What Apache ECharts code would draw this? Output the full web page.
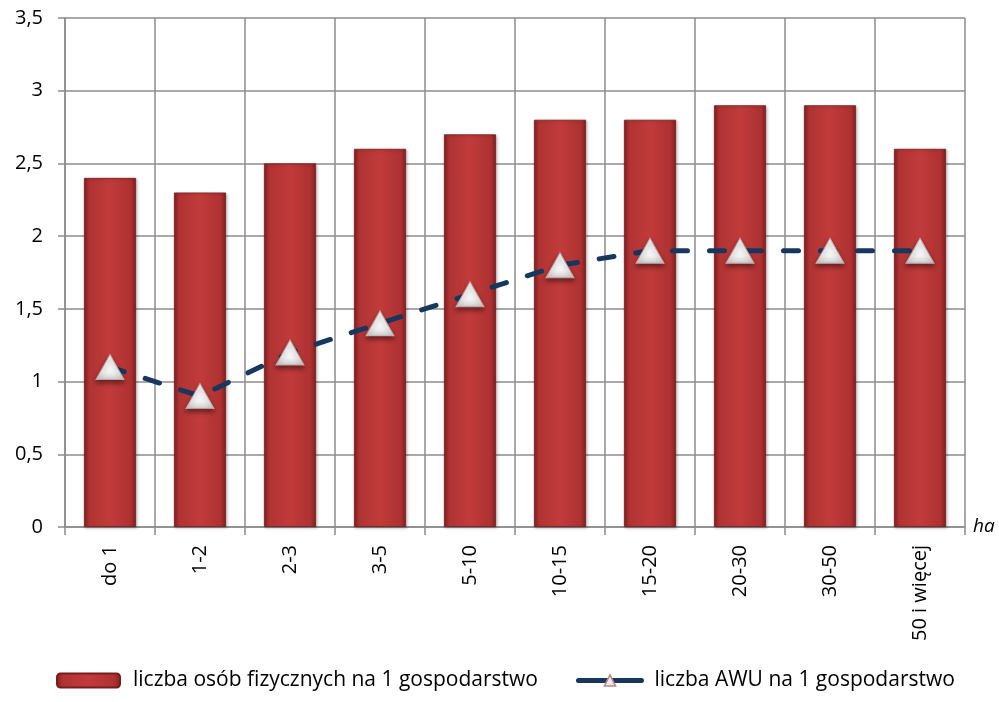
<!DOCTYPE html>
<html>
<head>
<meta charset="utf-8">
<script src="https://cdn.jsdelivr.net/npm/echarts@6/dist/echarts.min.js"></script>
<style>
  html, body { margin: 0; padding: 0; background: #fff; }
  #chart { width: 999px; height: 702px; }
</style>
</head>
<body>
<div id="chart"></div>
<script>
// Farm size groups (ha)
const categories = ['do 1', '1-2', '2-3', '3-5', '5-10', '10-15', '15-20', '20-30', '30-50', '50 i więcej'];
// Persons per farm
const personsPerFarm = [2.4, 2.3, 2.5, 2.6, 2.7, 2.8, 2.8, 2.9, 2.9, 2.6];
// AWU per farm
const awuPerFarm = [1.1, 0.9, 1.2, 1.4, 1.6, 1.8, 1.9, 1.9, 1.9, 1.9];
const yTicks = [0, 0.5, 1, 1.5, 2, 2.5, 3, 3.5];

const FONT = '"Open Sans", "Noto Sans", sans-serif';
const gridColor = '#8c8c8c';

const barFill = new echarts.graphic.LinearGradient(0, 0, 1, 0, [
  { offset: 0, color: '#862020' },
  { offset: 0.1, color: '#b03333' },
  { offset: 0.5, color: '#c23b3b' },
  { offset: 0.9, color: '#ae3131' },
  { offset: 1, color: '#821f1f' }
]);

const triangleFill = new echarts.graphic.LinearGradient(0, 0, 0, 1, [
  { offset: 0, color: '#ffffff' },
  { offset: 0.7, color: '#f4f4f4' },
  { offset: 1, color: '#cccccc' }
]);

const chart = echarts.init(document.getElementById('chart'), null, { renderer: 'canvas' });
chart.setOption({
  animation: false,
  backgroundColor: '#ffffff',
  grid: { left: 65, right: 34, top: 18, bottom: 175, containLabel: false },
  legend: {
    bottom: 6,
    left: 51,
    itemGap: 38,
    itemWidth: 63,
    itemHeight: 14,
    textStyle: { fontFamily: FONT, fontSize: 21, color: '#000', padding: [0, 0, 0, 8] },
    data: [
      { name: 'liczba osób fizycznych na 1 gospodarstwo' },
      {
        name: 'liczba AWU na 1 gospodarstwo',
        lineStyle: { color: '#17375e', width: 5, type: 'solid', cap: 'round' },
        itemStyle: { color: '#f2e6e6', borderColor: '#b58a8a', borderWidth: 1.5 }
      }
    ]
  },
  xAxis: {
    type: 'category',
    data: categories,
    boundaryGap: true,
    name: 'ha',
    nameLocation: 'end',
    nameGap: 8,
    nameTextStyle: { fontFamily: FONT, fontSize: 19, fontStyle: 'italic', color: '#000', verticalAlign: 'middle' },
    axisLine: { show: true, lineStyle: { color: gridColor, width: 1.5 } },
    axisTick: { show: true, length: 8, lineStyle: { color: gridColor, width: 1.5 } },
    splitLine: { show: true, lineStyle: { color: gridColor, width: 1.5 } },
    axisLabel: {
      rotate: 90,
      margin: 18,
      fontFamily: FONT,
      fontSize: 20,
      color: '#000'
    }
  },
  yAxis: {
    type: 'value',
    min: 0,
    max: 3.5,
    interval: 0.5,
    axisLine: { show: true, lineStyle: { color: gridColor, width: 1.5 } },
    axisTick: { show: true, length: 7, lineStyle: { color: gridColor, width: 1.5 } },
    splitLine: { show: true, lineStyle: { color: gridColor, width: 1.5 } },
    axisLabel: {
      margin: 22,
      fontFamily: FONT,
      fontSize: 20,
      color: '#000',
      formatter: v => yTicks.includes(v) ? String(v).replace('.', ',') : ''
    }
  },
  series: [
    {
      name: 'liczba osób fizycznych na 1 gospodarstwo',
      type: 'bar',
      data: personsPerFarm,
      barWidth: 52,
      itemStyle: {
        color: barFill,
        borderColor: '#7a1c1c',
        borderWidth: 0.8,
        shadowColor: 'rgba(0,0,0,0.25)',
        shadowBlur: 3,
        shadowOffsetX: 1,
        shadowOffsetY: 1
      },
      z: 2
    },
    {
      name: 'liczba AWU na 1 gospodarstwo',
      type: 'line',
      data: awuPerFarm,
      symbol: 'triangle',
      symbolSize: [28, 25],
      showSymbol: true,
      lineStyle: { color: '#17375e', width: 5, type: [15, 22], cap: 'round' },
      itemStyle: {
        color: triangleFill,
        borderColor: '#c0a8a8',
        borderWidth: 1,
        shadowColor: 'rgba(0,0,0,0.45)',
        shadowBlur: 5,
        shadowOffsetY: 3
      },
      z: 3
    }
  ]
});
</script>
</body>
</html>
